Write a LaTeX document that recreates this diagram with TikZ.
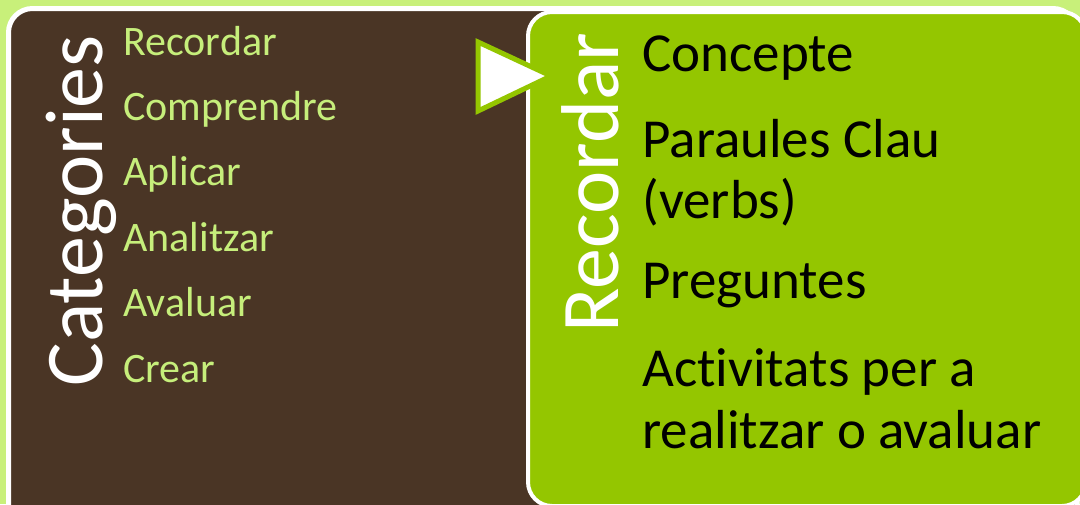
\documentclass[tikz,border=0pt]{standalone}
\usepackage{fontspec}
\setmainfont{Carlito}[Ligatures={NoCommon,NoContextual,NoRare},Contextuals=NoAlternate]
\definecolor{bgleaf}{HTML}{C8F07A}
\definecolor{bark}{HTML}{4A3525}
\definecolor{leaf}{HTML}{94C600}
\definecolor{sprout}{HTML}{C6EE7B}
\tikzset{
  sidetitle/.style={rotate=90,anchor=base west,inner sep=0pt,text=white,font=\fontsize{41pt}{41pt}\selectfont},
  catitem/.style={anchor=base west,inner sep=0pt,text=sprout,font=\fontsize{21pt}{24pt}\selectfont},
  recitem/.style={anchor=base west,inner sep=0pt,text=black,font=\fontsize{27.5pt}{31pt}\selectfont}
}
\begin{document}
\begin{tikzpicture}[x=0.5pt,y=-0.5pt]
    \useasboundingbox (0,0) rectangle (1080,504);
    \fill[bgleaf] (0,0) rectangle (1080,504);
    % left panel
    \draw[white,line width=2.5pt,fill=bark,rounded corners=12pt]
        (8.5,8.5) rectangle (1077,540);
    \node[sidetitle] (cat) at (102,387) {Categories};
    \foreach \t [count=\i] in {Recordar,Comprendre,Aplicar,Analitzar,Avaluar,Crear}
        \node[catitem] (c\i) at (123,{55+65.4*(\i-1)}) {\t};
    % right panel
    \draw[white,line width=2pt,fill=leaf,rounded corners=12pt]
        (528,12) rectangle (1086,506);
    \draw[leaf,line width=2.5pt,fill=white,line join=miter]
        (478,42) -- (551,76) -- (478,111) -- cycle;
    \node[sidetitle] (rec) at (618,333) {Recordar};
    \node[recitem] (r1) at (642,71) {Concepte};
    \node[recitem] (r2) at (642,157) {Paraules Clau};
    \node[recitem] (r2b) at (642,218) {(verbs)};
    \node[recitem] (r3) at (642,298) {Preguntes};
    \node[recitem] (r4) at (642,386) {Act\kern0pt ivitats per a};
    \node[recitem] (r4b) at (642,448) {realitzar o avaluar};
\end{tikzpicture}
\end{document}
